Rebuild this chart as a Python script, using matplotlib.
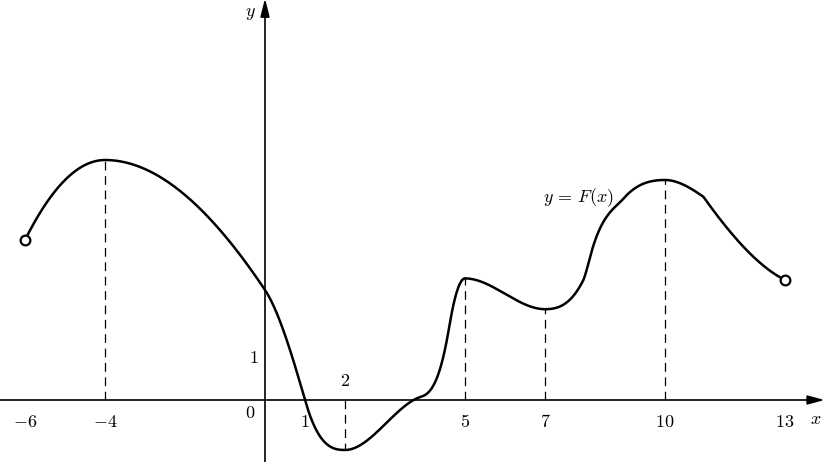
import numpy as np
import matplotlib
matplotlib.use('Agg')
import matplotlib.pyplot as plt
from matplotlib.patches import Polygon

plt.rcParams['mathtext.fontset'] = 'cm'

# knots of y = F(x): x, y, slope coming in, slope going out
knot_x = [-6, -4, 0, 1, 2, 3.9, 4.6, 5, 7, 7.96, 8.2, 9.04, 10, 10.96, 13]
knot_y = [4.0, 6.0, 2.75, 0.0, -1.25, 0.08, 1.8, 3.04, 2.27, 3.0, 3.83, 5.12, 5.5, 5.08, 3.0]
slope_in = [2.0, 0, -1.5, -3.5, 0, 0.3, 6.0, 0, 0, 2.0, 3.2, 1.2, 0, -0.7, -0.5]
slope_out = [2.0, 0, -1.5, -3.5, 0, 0.3, 6.0, 0, 0, 2.5, 3.2, 1.0, 0, -1.4, -0.5]
# marked points with dashed drop lines
drop_x = [-4, 2, 5, 7, 10]
drop_y = [6.0, -1.25, 3.04, 2.27, 5.5]
# tick labels on the x axis
xtick_vals = [-6, -4, 1, 5, 7, 10, 13]


def hermite(x0, x1, y0, y1, m0, m1, n=200):
    t = np.linspace(0, 1, n)
    h = x1 - x0
    y = ((2 * t**3 - 3 * t**2 + 1) * y0 + (t**3 - 2 * t**2 + t) * h * m0
         + (-2 * t**3 + 3 * t**2) * y1 + (t**3 - t**2) * h * m1)
    return x0 + t * h, y


fig = plt.figure(figsize=(8.26, 4.62), dpi=100)
ax = fig.add_axes([0, 0, 1, 1])
ax.set_xlim(-6.625, 14.025)
ax.set_ylim(-1.55, 10.0)
ax.axis('off')

# axes with arrows
ax.plot([-6.625, 13.6], [0, 0], color='black', lw=1.2)
ax.plot([0, 0], [-1.55, 9.6], color='black', lw=1.2)
ax.add_patch(Polygon([[13.925, 0], [13.55, 0.1], [13.55, -0.1]], closed=True, color='black'))
ax.add_patch(Polygon([[0, 9.97], [-0.1, 9.57], [0.1, 9.57]], closed=True, color='black'))

# dashed drop lines
for dx, dy in zip(drop_x, drop_y):
    ax.plot([dx, dx], [0, dy], color='black', lw=0.9, dashes=(7, 4.5))

# the curve, piece by piece
cx, cy = [], []
for i in range(len(knot_x) - 1):
    px, py = hermite(knot_x[i], knot_x[i + 1], knot_y[i], knot_y[i + 1],
                     slope_out[i], slope_in[i + 1])
    cx.extend(px)
    cy.extend(py)
ax.plot(cx, cy, color='black', lw=1.8, solid_joinstyle='round')
ax.plot([knot_x[0], knot_x[-1]], [knot_y[0], knot_y[-1]], 'o', ms=7,
        mfc='white', mec='black', mew=1.6)

# labels
for v in xtick_vals:
    ax.text(v, -0.55, '$%d$' % v, ha='center', va='center', fontsize=13)
ax.text(2, 0.48, '$2$', ha='center', va='center', fontsize=13)
ax.text(-0.375, -0.33, '$0$', ha='center', va='center', fontsize=13)
ax.text(-0.275, 1.05, '$1$', ha='center', va='center', fontsize=13)
ax.text(13.78, -0.48, '$x$', ha='center', va='center', fontsize=13)
ax.text(-0.375, 9.68, '$y$', ha='center', va='center', fontsize=13)
ax.text(7.83, 5.05, '$y\\,=\\,F(x)$', ha='center', va='center', fontsize=13)

plt.savefig('out.png', dpi=100)
